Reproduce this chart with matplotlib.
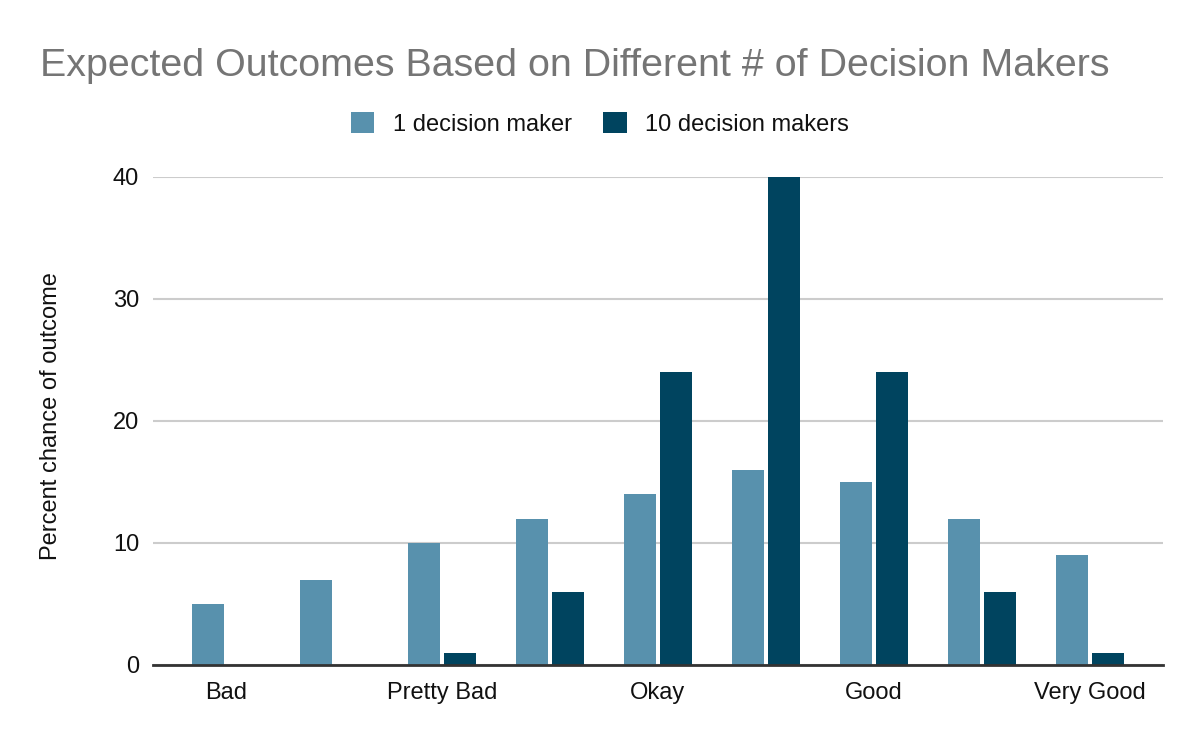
import numpy as np
import matplotlib
matplotlib.use("Agg")
import matplotlib.pyplot as plt
from matplotlib.patches import Patch

# chart data
categories = ["Bad", "", "Pretty Bad", "", "Okay", "", "Good", "", "Very Good"]
one_maker = [5, 7, 10, 12, 14, 16, 15, 12, 9]
ten_makers = [0, 0, 1, 6, 24, 40, 24, 6, 1]
series_names = ["1 decision maker", "10 decision makers"]
yticks = [0, 10, 20, 30, 40]

light = "#5891ad"
dark = "#00445f"

plt.rcParams["font.family"] = ["Liberation Sans", "DejaVu Sans"]

fig = plt.figure(figsize=(12.0, 7.42), dpi=100)
ax = fig.add_axes([0.1275, 0.1038, 0.8415, 0.6577])

x = np.arange(len(categories))
w = 0.296
ax.bar(x - 0.167, one_maker, width=w, color=light, zorder=3)
ax.bar(x + 0.167, ten_makers, width=w, color=dark, zorder=3)

ax.set_xlim(-0.676, len(categories) - 1 + 0.676)
ax.set_ylim(0, 40)
ax.set_yticks(yticks)
ax.set_xticks(x)
ax.set_xticklabels(categories)
ax.tick_params(axis="both", length=0, labelsize=17, colors="#111111")
ax.tick_params(axis="y", pad=10)
ax.tick_params(axis="x", pad=12)
ax.grid(axis="y", color="#cccccc", linewidth=1.5, zorder=0)
for s in ["top", "right", "left"]:
    ax.spines[s].set_visible(False)
ax.spines["bottom"].set_color("#333333")
ax.spines["bottom"].set_linewidth(2)
ax.spines["bottom"].set_zorder(4)

fig.text(51 / 1200, 1 - 416 / 742, "Percent chance of outcome", rotation=90,
         ha="center", va="center", fontsize=17, color="#111111")

fig.text(40 / 1200, 1 - 76 / 742,
         "Expected Outcomes Based on Different # of Decision Makers",
         ha="left", va="baseline", fontsize=28.4, color="#757575")

handles = [Patch(facecolor=light), Patch(facecolor=dark)]
fig.legend(handles, series_names, loc="center", bbox_to_anchor=(0.5, 1 - 124 / 742),
           ncol=2, frameon=False, fontsize=17, handlelength=1.0, handleheight=1.0,
           handletextpad=0.8, columnspacing=1.3, labelcolor="#111111")

fig.savefig("out.png", dpi=100)
